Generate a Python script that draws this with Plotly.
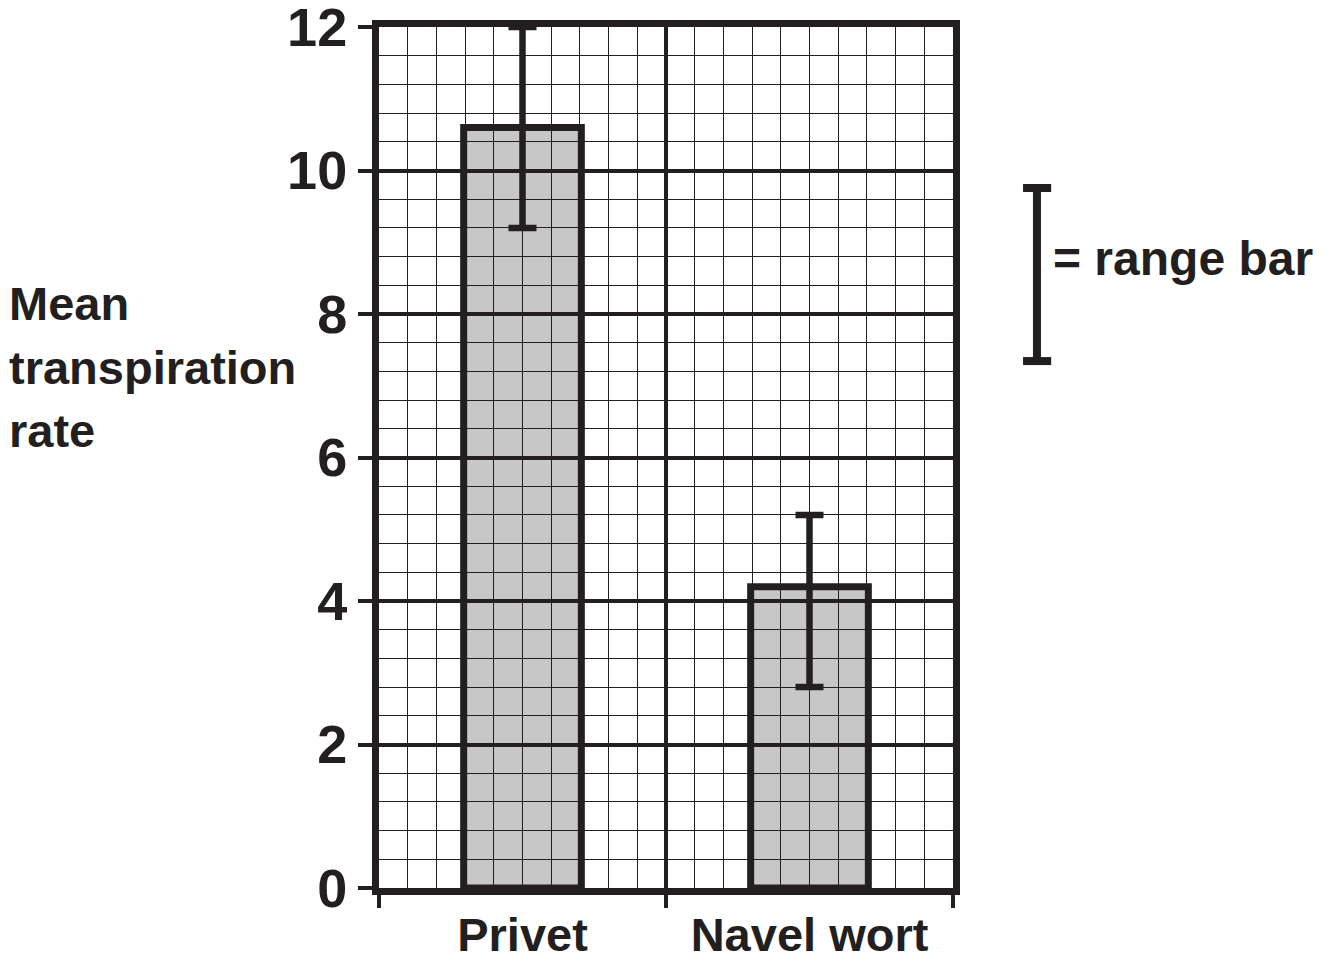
import plotly.graph_objects as go

# ---- data ----
categories = ["Privet", "Navel wort"]
mean_rate = [10.6, 4.2]
range_min = [9.2, 2.8]
range_max = [12.0, 5.2]
y_tick_values = [0, 2, 4, 6, 8, 10, 12]
y_tick_labels = ["0", "2", "4", "6", "8", "10", "12"]
y_title_lines = ["Mean", "transpiration", "rate"]
legend_text = "= range bar"

INK = "#231f20"
FONT = "Liberation Sans, Arial, Helvetica, sans-serif"

x_pos = list(range(len(categories)))
err_plus = [hi - m for hi, m in zip(range_max, mean_rate)]
err_minus = [m - lo for lo, m in zip(range_min, mean_rate)]

fig = go.Figure()
fig.add_trace(go.Bar(
    x=x_pos, y=mean_rate, width=0.41,
    marker=dict(color="rgba(35,31,32,0.25)", line=dict(color=INK, width=7)),
    error_y=dict(type="data", symmetric=False, array=err_plus, arrayminus=err_minus,
                 color=INK, thickness=6.5, width=14),
    showlegend=False, hoverinfo="skip",
))
# invisible trace to anchor the label axis
fig.add_trace(go.Scatter(x=x_pos, y=mean_rate, xaxis="x2", mode="markers",
                         marker=dict(opacity=0), showlegend=False, hoverinfo="skip"))

title_font = dict(family=FONT, size=47, color=INK, weight="bold")
annotations = []
for i, line in enumerate(y_title_lines):
    annotations.append(dict(text=line, xref="paper", yref="paper",
                            x=-0.648, y=0.6783 - i * 0.0732, xanchor="left", yanchor="middle",
                            showarrow=False, font=title_font))
annotations.append(dict(text=legend_text, xref="paper", yref="paper",
                        x=1.170, y=0.731, xanchor="left", yanchor="middle",
                        showarrow=False, font=dict(family=FONT, size=48, color=INK, weight="bold")))

fig.update_layout(
    width=1322, height=947,
    margin=dict(l=371, r=377, t=19, b=67, autoexpand=False),
    plot_bgcolor="white", paper_bgcolor="white",
    font=dict(family=FONT, color=INK, size=47, weight="bold"),
    xaxis=dict(
        range=[-0.5, 1.5], tickvals=[-0.5, 0.5, 1.5], ticktext=["", "", ""],
        ticks="outside", ticklen=13, tickwidth=4, tickcolor=INK,
        showgrid=True, gridcolor=INK, gridwidth=4,
        minor=dict(dtick=0.1, tick0=-0.5, showgrid=True, gridcolor=INK, gridwidth=1.4),
        showline=True, linecolor=INK, linewidth=7, zeroline=False, mirror=True,
        automargin=False,
    ),
    xaxis2=dict(
        overlaying="x", side="bottom", anchor="y", range=[-0.5, 1.5],
        tickvals=x_pos, ticktext=categories, ticks="outside", ticklen=6,
        tickcolor="rgba(0,0,0,0)", showgrid=False, showline=False, zeroline=False,
        tickfont=title_font, automargin=False, ticklabeloverflow="allow",
    ),
    yaxis=dict(
        range=[0, 12], tickvals=y_tick_values, ticktext=y_tick_labels,
        ticks="outside", ticklen=14, tickwidth=4, tickcolor=INK,
        tickfont=dict(family=FONT, size=54, color=INK, weight="bold"),
        ticklabeloverflow="allow",
        showgrid=True, gridcolor=INK, gridwidth=4,
        minor=dict(dtick=0.4, tick0=0, showgrid=True, gridcolor=INK, gridwidth=1.4),
        showline=True, linecolor=INK, linewidth=7, zeroline=False, mirror=True,
        automargin=False,
    ),
    annotations=annotations,
    shapes=[
        dict(type="line", xref="paper", yref="paper", x0=1.1463, x1=1.1463, y0=0.612, y1=0.813,
             line=dict(color=INK, width=8)),
        dict(type="line", xref="paper", yref="paper", x0=1.122, x1=1.171, y0=0.813, y1=0.813,
             line=dict(color=INK, width=8)),
        dict(type="line", xref="paper", yref="paper", x0=1.122, x1=1.171, y0=0.612, y1=0.612,
             line=dict(color=INK, width=8)),
    ],
)

fig.write_html("out.html")
